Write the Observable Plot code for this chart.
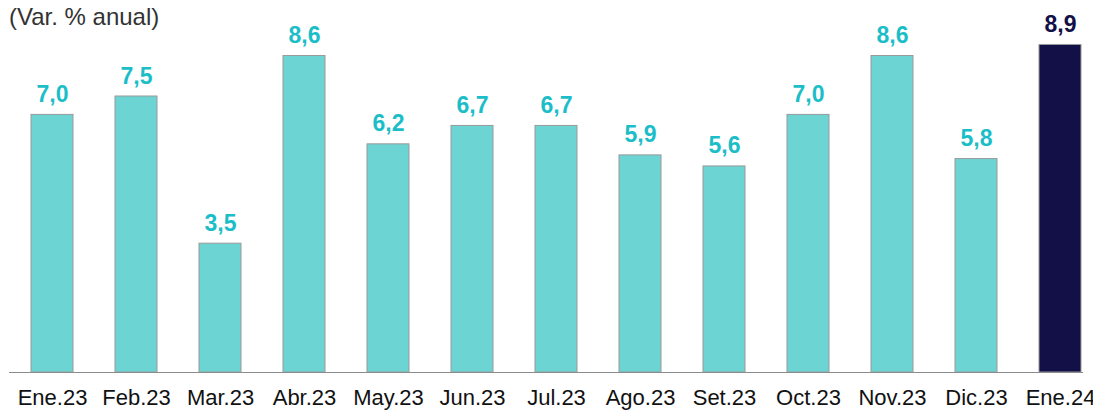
<!DOCTYPE html>
<html>
<head>
<meta charset="utf-8">
<script src="https://cdn.jsdelivr.net/npm/d3@7"></script>
<script src="https://cdn.jsdelivr.net/npm/@observablehq/plot@0.6"></script>
<style>
  html, body { margin: 0; padding: 0; background: #fff; }
  #wrap { position: relative; width: 1093px; height: 410px; font-family: "Liberation Sans", Arial, sans-serif; }
  #title { position: absolute; left: 9px; top: 5px; font-size: 24px; line-height: 24px; color: #333; }
</style>
</head>
<body>
<div id="wrap"><div id="title">(Var. % anual)</div></div>
<script>
const categories = ["Ene.23","Feb.23","Mar.23","Abr.23","May.23","Jun.23","Jul.23","Ago.23","Set.23","Oct.23","Nov.23","Dic.23","Ene.24"];
const values = [7.0, 7.5, 3.5, 8.6, 6.2, 6.7, 6.7, 5.9, 5.6, 7.0, 8.6, 5.8, 8.9];
const highlight = [false,false,false,false,false,false,false,false,false,false,false,false,true];

const data = categories.map((c, i) => ({cat: c, val: values[i], hi: highlight[i]}));
const fmt = v => v.toFixed(1).replace(".", ",");

const chart = Plot.plot({
  width: 1093,
  height: 410,
  marginLeft: 9,
  marginRight: 10,
  marginTop: 4,
  marginBottom: 38,
  style: {fontFamily: "'Liberation Sans', Arial, sans-serif", background: "transparent"},
  x: {domain: categories, range: [9.5, 1101.5], paddingInner: 0.5, paddingOuter: 0.25, label: null},
  y: {domain: [0, 10], range: [372, 4], axis: null},
  marks: [
    Plot.barY(data, {x: "cat", y: "val", fill: d => d.hi ? "#130F47" : "#6CD5D3", stroke: "#9A9A9A", strokeWidth: 1}),
    Plot.text(data, {x: "cat", y: "val", text: d => fmt(d.val), lineAnchor: "bottom", dy: -13, fill: d => d.hi ? "#130F47" : "#1BBEC8", fontSize: 23, fontWeight: "bold"}),
    Plot.ruleY([0], {stroke: "#8C8C8C", strokeWidth: 1}),
    Plot.axisX({tickSize: 0, tickPadding: 17, fontSize: 22, fill: "#111", label: null})
  ]
});
document.getElementById("wrap").appendChild(chart);
</script>
</body>
</html>
